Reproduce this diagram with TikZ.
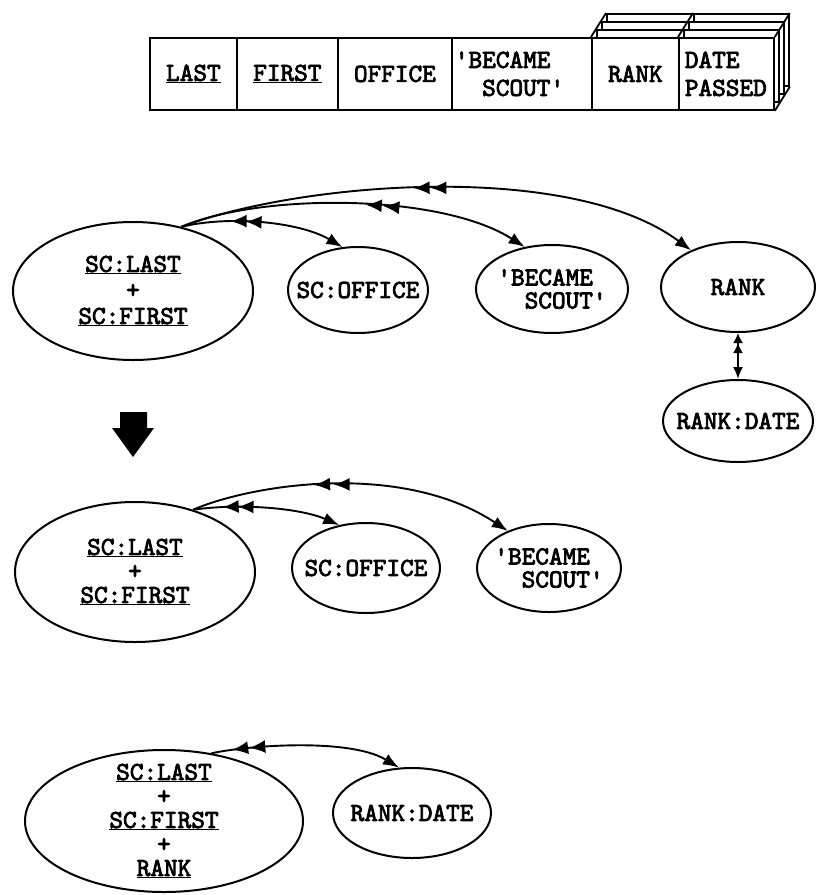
\documentclass[tikz,border=0pt]{standalone}
\usepackage{fontspec}
\setmonofont{lmmono10-regular.otf}[FakeBold=3]
\usetikzlibrary{arrows.meta,shapes.geometric,decorations.markings}
\tikzset{
  txt/.style={font=\ttfamily\fontsize{26}{26}\selectfont},
  ell/.style={ellipse, draw, line width=2pt, inner sep=0pt},
  lbl/.style={txt, inner sep=0pt, align=center},
  cell/.style={txt, font=\ttfamily\fontsize{26}{28}\selectfont, draw, line width=1.8pt, fill=white, inner sep=0pt, anchor=north west, minimum height=72pt, align=left},
  backcell/.style={draw, line width=1.8pt, fill=white, inner sep=0pt, anchor=north west, minimum height=72pt},
  conn/.style={line width=1.9pt, -{Latex[length=16pt,width=12pt]}},
  dbl/.style 2 args={postaction={decorate, decoration={markings,
     mark=at position #1 with {\arrowreversed{Latex[length=16pt,width=13pt]}},
     mark=at position #2 with {\arrowreversed{Latex[length=16pt,width=13pt]}}}}}
}
\begin{document}
\begin{tikzpicture}[x=1pt,y=-1pt]
\useasboundingbox (0,0) rectangle (816,895);

% ---- record layout (table) ----
\foreach \k in {3,2,1}{
  \node[backcell, minimum width=87pt] (bR\k) at (591+5*\k,37-8*\k) {};
  \node[backcell, minimum width=95pt] (bD\k) at (678+5*\k,37-8*\k) {};
}
\node[cell, minimum width=87pt] (cLast) at (149,37) {\underline{LAST}};
\node[cell, minimum width=101pt] (cFirst) at (236,37) {\underline{FIRST}};
\node[cell, minimum width=114pt] (cOff) at (337,37) {OFFICE};
\node[cell, minimum width=140pt, text width=134pt, inner xsep=3pt] (cBec) at (451,37) {'BECAME\\\phantom{XX}SCOUT'};
\node[cell, minimum width=87pt] (cRank) at (591,37) {RANK};
\node[cell, minimum width=95pt, text width=83pt] (cDate) at (678,37) {DATE\\PASSED};
\draw[line width=1.8pt] (cRank.north west) -- (bR3.north west);
\draw[line width=1.8pt] (cDate.north west) -- (bD3.north west);
\draw[line width=1.8pt] (cDate.north east) -- (bD3.north east);
\draw[line width=1.8pt] (cDate.south east) -- (bD3.south east);

% ---- first diagram ----
\node[ell, minimum width=240pt, minimum height=138pt] (k1) at (133,291) {};
\node[lbl] (k1t) at (k1) {\underline{SC:LAST}\\+\\\underline{SC:FIRST}};
\node[ell, minimum width=140pt, minimum height=86pt] (off1) at (358,290) {};
\node[lbl] (off1t) at (off1) {SC:OFFICE};
\node[ell, minimum width=152pt, minimum height=88pt] (bec1) at (552,289) {};
\node[lbl, align=left, font=\ttfamily\fontsize{26}{23}\selectfont] (bec1t) at (bec1) {'BECAME\\\phantom{XX}SCOUT'};
\node[ell, minimum width=154pt, minimum height=90pt] (rank1) at (738,287) {};
\node[lbl] (rank1t) at (rank1) {RANK};
\node[ell, minimum width=150pt, minimum height=82pt] (rd1) at (738,421) {};
\node[lbl] (rd1t) at (rd1) {RANK:DATE};

\draw[conn, dbl={0.30}{0.39}] (k1.53) .. controls (230,215) and (300,222) .. (off1.110);
\draw[conn, dbl={0.53}{0.58}] (k1.53) .. controls (260,193) and (440,193) .. (bec1.123);
\draw[conn, dbl={0.45}{0.482}] (k1.53) .. controls (300,182) and (570,160) .. (rank1.142);
\draw[line width=1.9pt, {Latex[length=10pt,width=10pt]Latex[length=10pt,width=10pt]}-{Latex[length=12pt,width=10pt]}] (rank1.south) -- (rd1.north);

% ---- big arrow ----
\fill (120,412) -- (147,412) -- (147,428) -- (154,428) -- (133,457) -- (112,428) -- (120,428) -- cycle;

% ---- second diagram ----
\node[ell, minimum width=240pt, minimum height=140pt] (k2) at (135,572) {};
\node[lbl, font=\ttfamily\fontsize{26}{24}\selectfont] (k2t) at (k2) {\underline{SC:LAST}\\+\\\underline{SC:FIRST}};
\node[ell, minimum width=148pt, minimum height=90pt] (off2) at (366,568) {};
\node[lbl] (off2t) at (off2) {SC:OFFICE};
\node[ell, minimum width=144pt, minimum height=88pt] (bec2) at (549,568) {};
\node[lbl, align=left, font=\ttfamily\fontsize{26}{23}\selectfont] (bec2t) at (bec2) {'BECAME\\\phantom{XX}SCOUT'};

\draw[conn, dbl={0.20}{0.30}] (k2.47) .. controls (240,503) and (300,508) .. (off2.122);
\draw[conn, dbl={0.38}{0.44}] (k2.47) .. controls (250,485) and (400,460) .. (bec2.138);

% ---- third diagram ----
\node[ell, minimum width=278pt, minimum height=142pt] (k3) at (164,821) {};
\node[lbl, font=\ttfamily\fontsize{26}{24}\selectfont] (k3t) at (k3) {\underline{SC:LAST}\\+\\\underline{SC:FIRST}\\+\\\underline{RANK}};
\node[ell, minimum width=158pt, minimum height=90pt] (rd2) at (412,813) {};
\node[lbl] (rd2t) at (rd2) {RANK:DATE};

\draw[conn, dbl={0.11}{0.20}] (k3.55) .. controls (250,745) and (350,738) .. (rd2.106);
\end{tikzpicture}
\end{document}
